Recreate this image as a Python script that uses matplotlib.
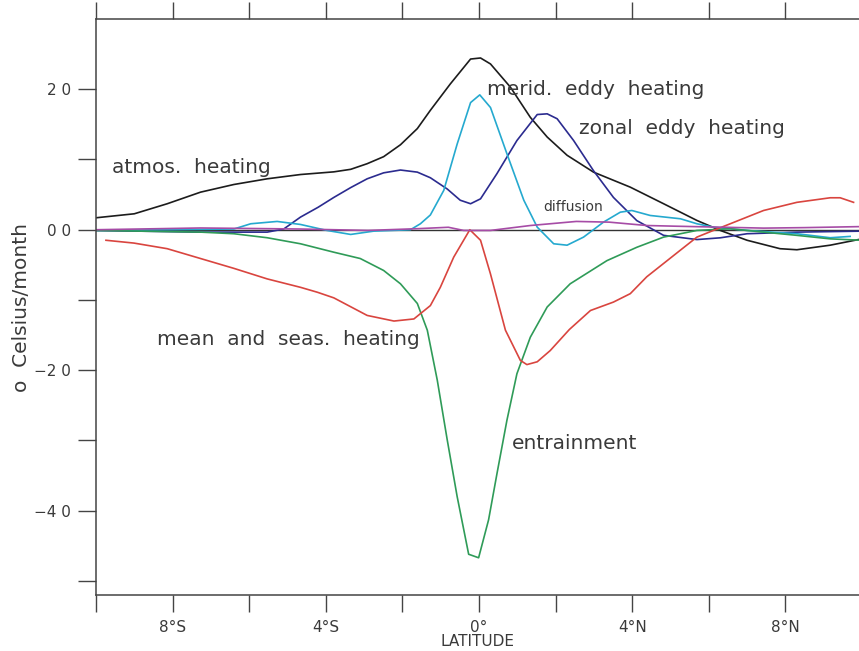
import matplotlib
matplotlib.use('Agg')
import matplotlib.pyplot as plt
import numpy as np

# atmos. heating (black)
lat_atmos = [-10, -9.0, -8.14, -7.27, -6.4, -5.53, -4.66, -3.79, -3.35, -2.92, -2.49, -2.05, -1.61,
             -1.27, -0.75, -0.22, 0.04, 0.30, 0.82, 1.34, 1.78, 2.30, 2.99, 3.95, 4.82, 5.69, 6.30,
             7.0, 7.86, 8.3, 9.17, 10]
atmos = [1.7, 2.27, 3.7, 5.35, 6.44, 7.25, 7.86, 8.24, 8.6, 9.4, 10.4, 12.1, 14.4,
         17.0, 20.75, 24.3, 24.45, 23.6, 20.3, 16.0, 13.2, 10.6, 8.2, 6.06, 3.7, 1.32, -0.1,
         -1.5, -2.7, -2.85, -2.2, -1.3]

# zonal eddy heating (navy)
lat_zonal = [-10, -7.27, -5.53, -5.1, -4.66, -4.2, -3.79, -3.35, -2.92, -2.49, -2.05, -1.61, -1.27,
             -0.83, -0.49, -0.22, 0.04, 0.47, 0.99, 1.52, 1.78, 2.04, 2.47, 2.99, 3.51, 4.12, 4.82,
             5.69, 6.30, 7.0, 8.3, 10]
zonal = [-0.1, -0.34, -0.34, 0.1, 1.8, 3.2, 4.6, 6.0, 7.25, 8.1, 8.5, 8.2, 7.4,
         5.8, 4.2, 3.7, 4.4, 8.0, 12.7, 16.4, 16.5, 15.8, 12.7, 8.4, 4.6, 1.3, -0.8,
         -1.4, -1.15, -0.57, -0.34, -0.2]

# merid. eddy heating (cyan)
lat_merid = [-10, -6.4, -5.96, -5.27, -4.66, -3.97, -3.35, -2.75, -1.79, -1.53, -1.27, -0.92, -0.57,
             -0.22, 0.02, 0.30, 0.73, 1.17, 1.52, 1.95, 2.30, 2.73, 3.25, 3.69, 3.99, 4.47, 5.26,
             5.69, 6.12, 7.0, 8.3, 9.17, 9.69]
merid = [-0.1, 0.1, 0.85, 1.18, 0.75, -0.1, -0.67, -0.2, 0.0, 0.85, 2.1, 5.6, 12.2,
         18.1, 19.2, 17.4, 10.8, 4.2, 0.37, -2.0, -2.2, -1.05, 1.08, 2.5, 2.74, 2.03, 1.56,
         0.85, 0.37, -0.1, -0.57, -1.14, -0.95]

# entrainment (green)
lat_entr = [-10, -7.27, -6.4, -5.53, -4.66, -3.79, -3.1, -2.49, -2.05, -1.61, -1.35, -1.09, -0.83,
            -0.57, -0.27, -0.01, 0.25, 0.47, 0.73, 0.99, 1.34, 1.78, 2.38, 3.34, 4.12, 4.82, 5.69,
            6.56, 7.43, 8.3, 9.17, 10]
entr = [-0.1, -0.34, -0.57, -1.14, -2.0, -3.2, -4.1, -5.8, -7.7, -10.5, -14.3, -21.4, -29.9,
        -38.0, -46.2, -46.7, -41.3, -34.7, -27.1, -20.5, -15.3, -11.0, -7.7, -4.4, -2.5, -1.05, -0.1,
        0.14, -0.34, -0.8, -1.3, -1.5]

# mean and seas. heating (red)
lat_mean = [-9.74, -9.01, -8.14, -7.27, -6.4, -5.53, -4.66, -4.22, -3.79, -2.92, -2.22, -1.70, -1.27,
            -1.01, -0.66, -0.24, 0.04, 0.30, 0.69, 1.08, 1.25, 1.52, 1.86, 2.36, 2.91, 3.51, 3.95,
            4.38, 4.82, 5.26, 5.69, 6.12, 6.56, 7.43, 8.3, 9.17, 9.43, 9.78]
mean = [-1.5, -1.9, -2.7, -4.1, -5.5, -7.0, -8.2, -8.9, -9.7, -12.2, -13.0, -12.7, -10.8,
        -8.2, -3.9, 0.0, -1.5, -6.3, -14.3, -18.6, -19.2, -18.8, -17.2, -14.2, -11.5, -10.3, -9.1,
        -6.7, -4.8, -2.9, -1.05, -0.1, 0.85, 2.74, 3.9, 4.55, 4.55, 3.9]

# diffusion (magenta)
lat_diff = [-10, -7.27, -5.5, -4.66, -2.9, -1.6, -0.8, -0.4, 0.3, 1.34, 2.54, 3.4, 4.38,
            5.15, 7.43, 8.5, 10]
diff = [0.0, 0.25, 0.15, 0.1, -0.1, 0.15, 0.35, -0.1, -0.1, 0.6, 1.18, 1.08, 0.6,
        0.5, 0.23, 0.3, 0.45]

xticks = [-10, -8, -6, -4, -2, 0, 2, 4, 6, 8, 10]
xlabels = ['', '8°S', '', '4°S', '', '0°', '', '4°N', '', '8°N', '']
yticks = [-50, -40, -30, -20, -10, 0, 10, 20]
ylabels = ['', '−4 0', '', '−2 0', '', '0 0', '', '2 0']

TXT = '#3a3a3a'
W, H = 859, 651

fig = plt.figure(figsize=(W / 100, H / 100), dpi=100)
ax = fig.add_axes([96 / W, 1 - 595 / H, 766 / W, 576 / H])

ax.axhline(0, color='#333333', lw=1.0, zorder=1)
ax.plot(lat_atmos, atmos, color='#1c1c1c', lw=1.2)
ax.plot(lat_zonal, zonal, color='#2b2b8f', lw=1.2)
ax.plot(lat_merid, merid, color='#25a9cf', lw=1.2)
ax.plot(lat_entr, entr, color='#2f9b58', lw=1.2)
ax.plot(lat_mean, mean, color='#d9453f', lw=1.2)
ax.plot(lat_diff, diff, color='#a64ca6', lw=1.2)

# curve labels
fs = 14.5
ax.text(-9.59, 8.86, 'atmos.  heating', fontsize=fs, color=TXT, va='center')
ax.text(0.21, 19.9, 'merid.  eddy  heating', fontsize=fs, color=TXT, va='center')
ax.text(2.62, 14.4, 'zonal  eddy  heating', fontsize=fs, color=TXT, va='center')
ax.text(1.68, 3.3, 'diffusion', fontsize=10, color=TXT, va='center')
ax.text(-8.42, -15.6, 'mean  and  seas.  heating', fontsize=fs, color=TXT, va='center')
ax.text(0.86, -30.5, 'entrainment', fontsize=fs, color=TXT, va='center')

ax.set_xlim(-10, 10)
ax.set_ylim(-52, 30)
ax.set_xticks(xticks)
ax.set_xticklabels(xlabels)
ax.set_yticks(yticks)
ax.set_yticklabels(ylabels)
ax.tick_params(axis='x', direction='out', length=12, width=1, color='#444444',
               top=True, labeltop=False, pad=6, labelsize=11, labelcolor=TXT)
ax.tick_params(axis='y', direction='out', length=13, width=1, color='#444444',
               pad=5, labelsize=11, labelcolor=TXT)
ax.spines['right'].set_visible(False)
for s in ['left', 'top', 'bottom']:
    ax.spines[s].set_color('#444444')
    ax.spines[s].set_linewidth(1.1)

fig.text(478 / W, 1 - 642 / H, 'LATITUDE', ha='center', va='center', fontsize=11, color=TXT)
fig.text(22 / W, 1 - 307 / H, 'o  Celsius/month', rotation=90, ha='center', va='center',
         fontsize=14.5, color=TXT)

fig.savefig('out.png', dpi=100)
